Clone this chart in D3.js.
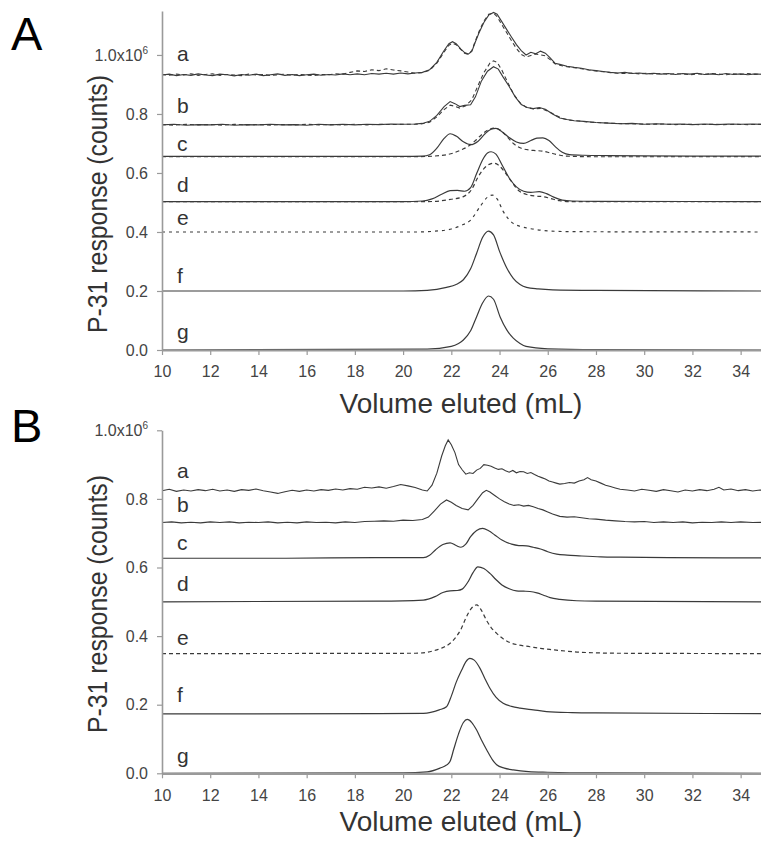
<!DOCTYPE html>
<html>
<head>
<meta charset="utf-8">
<script src="https://cdn.jsdelivr.net/npm/d3@7"></script>
<style>
  body { margin: 0; background: #fff; }
  svg { display: block; font-family: "Liberation Sans", Arial, sans-serif; }
</style>
</head>
<body>
<div id="chart"></div>
<script>
// x ticks shared by both panels (mL)
const xTicks = [10, 12, 14, 16, 18, 20, 22, 24, 26, 28, 30, 32, 34]
const yTicks = [0, 0.2, 0.4, 0.6, 0.8, 1.0]
const traceNames = ["a", "b", "c", "d", "e", "f", "g"]

// ---- Panel A traces (volume mL, response x10^6) ----
const aSolidA = [[10.0,.932],[10.3,.935],[10.6,.930],[10.9,.934],[11.2,.931],[11.5,.936],[11.8,.932],[12.1,.930],[12.4,.935],[12.7,.933],[13.0,.929],[13.3,.934],[13.6,.931],[13.9,.935],[14.2,.930],[14.5,.933],[14.8,.936],[15.1,.931],[15.4,.934],[15.7,.930],[16.0,.933],[16.3,.935],[16.6,.931],[16.9,.934],[17.2,.932],[17.5,.936],[17.8,.933],[18.1,.936],[18.4,.933],[18.7,.937],[19.0,.935],[19.3,.938],[19.6,.935],[19.9,.939],[20.2,.936],[20.5,.939],[20.8,.941],[21.1,.950],[21.4,.975],[21.7,1.015],[21.9,1.038],[22.05,1.045],[22.2,1.038],[22.4,1.02],[22.55,1.008],[22.7,1.003],[22.85,1.012],[23.0,1.045],[23.15,1.075],[23.35,1.11],[23.55,1.135],[23.75,1.144],[23.9,1.138],[24.1,1.112],[24.3,1.086],[24.5,1.06],[24.7,1.035],[24.9,1.015],[25.1,1.0],[25.3,1.009],[25.5,1.004],[25.7,1.013],[25.9,1.006],[26.1,0.99],[26.3,0.972],[26.5,0.968],[26.8,0.962],[27.1,0.958],[27.4,0.955],[27.7,0.95],[28.0,0.947],[28.3,0.944],[28.6,0.941],[28.9,0.939],[29.2,0.941],[29.5,0.937],[29.8,0.939],[30.1,0.936],[30.4,0.938],[30.7,0.935],[31.0,0.937],[31.3,0.934],[31.6,0.937],[31.9,0.935],[32.2,0.938],[32.5,0.934],[32.8,0.936],[33.1,0.933],[33.4,0.937],[33.7,0.934],[34.0,0.936],[34.3,0.933],[34.6,0.936],[35.0,0.934]]
const aDashA = [[10.0,.934],[10.3,.931],[10.6,.935],[10.9,.932],[11.2,.936],[11.5,.931],[11.8,.934],[12.1,.936],[12.4,.931],[12.7,.934],[13.0,.932],[13.3,.930],[13.6,.935],[13.9,.932],[14.2,.934],[14.5,.930],[14.8,.933],[15.1,.935],[15.4,.931],[15.7,.934],[16.0,.932],[16.3,.930],[16.6,.934],[16.9,.933],[17.2,.936],[17.5,.935],[17.8,.941],[18.1,.946],[18.4,.944],[18.7,.950],[19.0,.947],[19.3,.953],[19.6,.949],[19.9,.946],[20.2,.942],[20.5,.938],[20.8,.940],[21.1,.948],[21.4,.972],[21.7,1.01],[21.9,1.033],[22.05,1.04],[22.2,1.035],[22.4,1.018],[22.55,1.006],[22.7,1.002],[22.85,1.015],[23.0,1.048],[23.15,1.08],[23.35,1.115],[23.55,1.138],[23.75,1.142],[23.9,1.13],[24.1,1.102],[24.3,1.075],[24.5,1.048],[24.7,1.022],[24.9,1.002],[25.1,0.993],[25.3,0.998],[25.5,1.003],[25.7,1.0],[25.9,0.997],[26.1,0.984],[26.3,0.97],[26.5,0.965],[26.8,0.96],[27.1,0.957],[27.4,0.953],[27.7,0.949],[28.0,0.946],[28.3,0.943],[28.6,0.94],[28.9,0.938],[29.2,0.937],[29.5,0.939],[29.8,0.936],[30.1,0.938],[30.4,0.935],[30.7,0.937],[31.0,0.934],[31.3,0.937],[31.6,0.935],[31.9,0.933],[32.2,0.936],[32.5,0.934],[32.8,0.937],[33.1,0.935],[33.4,0.933],[33.7,0.936],[34.0,0.934],[34.3,0.937],[34.6,0.934],[35.0,0.936]]
const bSolidA = [[10,.763],[10.5,.765],[11,.762],[11.5,.764],[12,.763],[12.5,.765],[13,.762],[13.5,.764],[14,.763],[14.5,.765],[15,.763],[15.5,.764],[16,.762],[16.5,.765],[17,.763],[17.5,.765],[18,.763],[18.5,.765],[19,.764],[19.5,.766],[20,.765],[20.5,.766],[20.8,.768],[21.1,.775],[21.4,.795],[21.7,.825],[21.95,.842],[22.15,.835],[22.35,.825],[22.55,.829],[22.8,.831],[23.0,.858],[23.25,.912],[23.5,.945],[23.75,.96],[23.95,.952],[24.15,.925],[24.4,.893],[24.65,.858],[24.9,.832],[25.15,.822],[25.4,.818],[25.65,.822],[25.9,.816],[26.2,.8],[26.5,.786],[26.8,.781],[27.1,.777],[27.5,.775],[28,.771],[28.5,.769],[29,.767],[29.5,.768],[30,.765],[30.5,.767],[31,.765],[31.5,.766],[32,.764],[32.5,.766],[33,.764],[33.5,.766],[34,.765],[34.5,.766],[35,.764]]
const bDashA = [[10,.764],[10.5,.762],[11,.765],[11.5,.763],[12,.764],[12.5,.762],[13,.765],[13.5,.763],[14,.764],[14.5,.762],[15,.764],[15.5,.763],[16,.765],[16.5,.763],[17,.764],[17.5,.763],[18,.765],[18.5,.763],[19,.765],[19.5,.764],[20,.765],[20.5,.765],[20.8,.767],[21.1,.772],[21.4,.79],[21.7,.815],[21.95,.83],[22.15,.826],[22.35,.82],[22.6,.828],[22.85,.848],[23.1,.895],[23.35,.94],[23.6,.972],[23.75,.98],[23.9,.975],[24.1,.948],[24.35,.905],[24.6,.865],[24.85,.838],[25.1,.823],[25.4,.817],[25.7,.819],[26.0,.81],[26.3,.797],[26.6,.785],[26.9,.779],[27.3,.776],[27.8,.772],[28.3,.77],[28.8,.768],[29.3,.767],[29.8,.766],[30.3,.765],[30.8,.766],[31.3,.764],[31.8,.765],[32.3,.764],[32.8,.765],[33.3,.764],[33.8,.765],[34.3,.764],[35,.765]]
const cSolidA = [[10,.656],[15,.656],[20,.656],[20.8,.657],[21.1,.662],[21.4,.684],[21.7,.717],[21.95,.733],[22.2,.725],[22.5,.706],[22.8,.696],[23.1,.707],[23.4,.733],[23.65,.748],[23.85,.751],[24.1,.74],[24.4,.72],[24.7,.705],[25.0,.7],[25.3,.71],[25.55,.718],[25.8,.719],[26.05,.71],[26.3,.69],[26.6,.67],[26.9,.662],[27.5,.66],[28.5,.659],[30,.658],[35,.657]]
const cDashA = [[10,.655],[20,.655],[21,.656],[21.5,.659],[21.8,.662],[22.1,.668],[22.4,.678],[22.7,.69],[23.0,.71],[23.3,.733],[23.55,.747],[23.8,.752],[24.05,.744],[24.3,.724],[24.6,.698],[24.9,.684],[25.2,.678],[25.5,.676],[25.8,.674],[26.1,.668],[26.4,.662],[26.8,.657],[28,.655],[35,.655]]
const dSolidA = [[10,.503],[20,.503],[20.8,.505],[21.2,.512],[21.6,.528],[21.95,.54],[22.25,.541],[22.55,.538],[22.8,.55],[23.05,.598],[23.3,.645],[23.5,.668],[23.65,.672],[23.85,.664],[24.1,.628],[24.4,.583],[24.7,.553],[25.0,.538],[25.3,.534],[25.65,.537],[25.95,.53],[26.25,.518],[26.6,.508],[27,.505],[28,.504],[35,.503]]
const dDashA = [[10,.503],[21,.503],[21.5,.505],[22.0,.511],[22.5,.52],[22.85,.545],[23.1,.585],[23.35,.615],[23.6,.63],[23.75,.633],[23.95,.627],[24.2,.605],[24.5,.57],[24.8,.54],[25.1,.528],[25.45,.522],[25.8,.52],[26.1,.514],[26.5,.506],[27,.503],[35,.503]]
const eA = [[10,.4],[20.5,.4],[21.5,.404],[22.0,.41],[22.4,.422],[22.8,.44],[23.2,.487],[23.5,.518],[23.7,.525],[23.9,.512],[24.15,.47],[24.55,.43],[24.9,.418],[25.3,.411],[26,.404],[27,.401],[35,.4]]
const fA = [[10,.2],[20,.2],[21,.202],[21.8,.212],[22.2,.222],[22.5,.238],[22.8,.275],[23.05,.328],[23.3,.382],[23.54,.403],[23.75,.39],[24.02,.33],[24.3,.278],[24.57,.243],[24.85,.222],[25.12,.212],[25.6,.207],[26.2,.204],[28,.202],[35,.2]]
const gA = [[10,0],[21,.003],[22.0,.012],[22.3,.022],[22.5,.034],[22.8,.065],[23.05,.113],[23.3,.16],[23.54,.183],[23.75,.172],[24.02,.113],[24.3,.068],[24.57,.04],[24.85,.022],[25.1,.012],[26,.004],[28,.001],[35,0]]
const labelLevelA = [0.978, 0.803, 0.676, 0.537, 0.424, 0.226, 0.037]

// ---- Panel B traces ----
const aB = [[10.0,.824],[10.3,.828],[10.6,.822],[10.9,.826],[11.2,.823],[11.5,.827],[11.8,.824],[12.1,.828],[12.4,.823],[12.7,.826],[13.0,.822],[13.3,.827],[13.6,.825],[13.9,.829],[14.2,.824],[14.5,.82],[14.8,.816],[15.1,.821],[15.4,.825],[15.7,.822],[16.0,.826],[16.3,.823],[16.6,.827],[16.9,.825],[17.2,.829],[17.5,.826],[17.8,.83],[18.1,.828],[18.4,.834],[18.7,.832],[19.0,.835],[19.3,.831],[19.6,.836],[19.9,.842],[20.2,.838],[20.5,.833],[20.8,.826],[21.0,.823],[21.2,.84],[21.4,.875],[21.6,.925],[21.75,.955],[21.87,.972],[22.0,.958],[22.15,.935],[22.3,.9],[22.45,.885],[22.6,.872],[22.75,.876],[22.9,.874],[23.05,.884],[23.2,.889],[23.35,.9],[23.5,.898],[23.65,.895],[23.8,.89],[23.95,.886],[24.1,.888],[24.25,.882],[24.4,.878],[24.55,.883],[24.7,.876],[24.85,.88],[25.0,.879],[25.15,.874],[25.3,.877],[25.45,.871],[25.6,.866],[25.75,.862],[25.9,.858],[26.05,.852],[26.2,.849],[26.35,.846],[26.5,.843],[26.7,.845],[26.9,.848],[27.1,.846],[27.3,.852],[27.5,.856],[27.65,.862],[27.8,.856],[28.0,.852],[28.2,.846],[28.4,.84],[28.6,.836],[28.8,.832],[29.0,.828],[29.3,.826],[29.6,.823],[29.9,.828],[30.2,.825],[30.5,.822],[30.8,.827],[31.1,.824],[31.4,.82],[31.7,.826],[32.0,.823],[32.3,.827],[32.6,.824],[32.9,.828],[33.1,.834],[33.3,.826],[33.6,.829],[33.9,.824],[34.2,.827],[34.5,.823],[34.8,.826],[35.0,.824]]
const bB = [[10.0,.731],[10.4,.733],[10.8,.73],[11.2,.732],[11.6,.73],[12.0,.733],[12.4,.731],[12.8,.733],[13.2,.73],[13.6,.732],[14.0,.731],[14.4,.733],[14.8,.73],[15.2,.732],[15.6,.73],[16.0,.733],[16.4,.731],[16.8,.732],[17.2,.73],[17.6,.733],[18.0,.731],[18.4,.734],[18.8,.735],[19.2,.736],[19.6,.735],[20.0,.738],[20.4,.737],[20.8,.74],[21.05,.747],[21.3,.765],[21.55,.785],[21.8,.797],[22.0,.79],[22.2,.781],[22.45,.772],[22.7,.768],[22.9,.781],[23.1,.8],[23.3,.818],[23.45,.825],[23.6,.82],[23.8,.81],[24.0,.8],[24.2,.792],[24.4,.785],[24.6,.781],[24.8,.783],[25.0,.779],[25.2,.781],[25.4,.777],[25.6,.772],[25.8,.768],[26.0,.762],[26.2,.756],[26.5,.749],[26.8,.747],[27.1,.748],[27.4,.745],[27.7,.742],[28.0,.741],[28.4,.738],[28.8,.736],[29.2,.734],[29.6,.733],[30.0,.734],[30.4,.731],[30.8,.733],[31.2,.731],[31.6,.733],[32.0,.73],[32.4,.732],[32.8,.731],[33.2,.733],[33.6,.731],[34.0,.733],[34.5,.731],[35.0,.732]]
const cB = [[10,.627],[15,.627],[19,.629],[20.84,.629],[21.1,.636],[21.35,.652],[21.65,.667],[21.95,.672],[22.2,.664],[22.4,.659],[22.6,.668],[22.8,.69],[23.05,.708],[23.3,.714],[23.55,.707],[23.8,.695],[24.1,.68],[24.5,.668],[24.8,.664],[25.12,.663],[25.4,.659],[25.7,.654],[26.0,.646],[26.37,.639],[26.8,.636],[27.3,.634],[28.2,.631],[29,.63],[31,.629],[35,.628]]
const dB = [[10,.5],[19,.502],[20.84,.505],[21.32,.515],[21.65,.527],[21.95,.532],[22.25,.533],[22.45,.537],[22.7,.559],[22.9,.585],[23.1,.602],[23.35,.597],[23.6,.583],[23.85,.565],[24.1,.549],[24.4,.538],[24.7,.532],[25.0,.531],[25.26,.53],[25.55,.526],[25.8,.52],[26.1,.512],[26.5,.507],[27.2,.503],[28,.502],[35,.5]]
const eB = [[10,.349],[20.5,.35],[21.0,.353],[21.4,.36],[21.7,.368],[21.95,.379],[22.2,.398],[22.4,.42],[22.6,.452],[22.8,.478],[23.05,.491],[23.25,.475],[23.45,.447],[23.65,.425],[23.88,.408],[24.15,.392],[24.43,.381],[24.8,.374],[25.26,.369],[25.7,.364],[26.23,.36],[26.8,.356],[27.34,.353],[29,.35],[35,.349]]
const fB = [[10,.173],[19,.174],[20.84,.175],[21.5,.185],[21.8,.194],[22.0,.225],[22.2,.265],[22.43,.301],[22.6,.325],[22.77,.335],[22.95,.33],[23.19,.306],[23.4,.275],[23.6,.248],[23.85,.222],[24.15,.204],[24.5,.195],[24.85,.19],[25.4,.185],[25.95,.18],[27,.177],[28,.176],[35,.174]]
const gB = [[10,0],[20,.001],[21.0,.004],[21.53,.015],[21.8,.024],[21.95,.035],[22.1,.07],[22.3,.115],[22.5,.148],[22.66,.157],[22.85,.148],[23.05,.126],[23.25,.097],[23.47,.068],[23.7,.04],[23.88,.025],[24.2,.015],[24.57,.01],[25.2,.005],[26,.003],[28,.001],[35,0]]
const labelLevelB = [0.86, 0.763, 0.651, 0.531, 0.374, 0.209, 0.029]

const W = 761, H = 846
const INK = "#3a3a3a", AXIS = "#9a9a9a", TXT = "#444"

const svg = d3.select("#chart").append("svg")
  .attr("width", W).attr("height", H)

// line styles: solid, dashed (overlay), dotted (e)
const dashStyle = { solid: null, dash: "4,3", dot: "3,4" }

function drawPanel(p) {
  const x = d3.scaleLinear().domain([10, 35]).range([162, 764.75])
  const y = d3.scaleLinear().domain([0, p.yMax]).range([p.bottom, p.top])
  const g = svg.append("g")

  // traces
  p.traces.forEach(t => {
    const line = d3.line()
      .x(d => x(d[0])).y(d => y(d[1]))
      .curve(t.noisy ? d3.curveLinear : d3.curveMonotoneX)
    g.append("path")
      .datum(t.data)
      .attr("fill", "none")
      .attr("stroke", INK)
      .attr("stroke-width", t.noisy ? 1.1 : 1.2)
      .attr("stroke-dasharray", dashStyle[t.style])
      .attr("d", line)
  })

  // x axis
  const xAxis = g.append("g")
    .attr("transform", `translate(0,${p.bottom})`)
    .call(d3.axisBottom(x).tickValues(xTicks).tickSize(5).tickSizeOuter(0).tickPadding(11))
  xAxis.select(".domain").attr("stroke", AXIS).attr("stroke-width", 2.2)
  xAxis.selectAll(".tick line").attr("stroke", AXIS).attr("stroke-width", 1.2)
  xAxis.selectAll(".tick text")
    .attr("fill", TXT).attr("font-size", 16)
    .attr("font-family", "Liberation Sans, Arial, sans-serif")

  // y axis
  const yAxis = g.append("g")
    .attr("transform", `translate(162,0)`)
    .call(d3.axisLeft(y).tickValues(yTicks).tickSize(5).tickSizeOuter(0).tickPadding(9)
      .tickFormat(d => d === 1 ? "" : d3.format(".1f")(d)))
  yAxis.select(".domain").attr("stroke", AXIS).attr("stroke-width", 1.6)
  yAxis.selectAll(".tick line").attr("stroke", AXIS).attr("stroke-width", 1.2)
  yAxis.selectAll(".tick text")
    .attr("fill", TXT).attr("font-size", 16)
    .attr("font-family", "Liberation Sans, Arial, sans-serif")
  // 1.0x10^6 label with superscript
  const top = yAxis.selectAll(".tick").filter(d => d === 1).select("text")
  top.append("tspan").text("1.0x10")
  top.append("tspan").text("6").attr("font-size", 10).attr("dy", -7)

  // trace letters
  traceNames.forEach((n, i) => {
    g.append("text")
      .attr("x", 177).attr("y", y(p.labelLevels[i]))
      .attr("font-size", 21).attr("fill", "#333")
      .text(n)
  })

  // axis titles
  g.append("text")
    .attr("x", 461).attr("y", p.xTitleY)
    .attr("text-anchor", "middle")
    .attr("font-size", 28).attr("fill", "#333")
    .text("Volume eluted (mL)")

  g.append("text")
    .attr("transform", `translate(107,${p.yTitleC}) rotate(-90)`)
    .attr("text-anchor", "middle")
    .attr("font-size", 28).attr("fill", "#333")
    .attr("textLength", 258).attr("lengthAdjust", "spacingAndGlyphs")
    .text("P-31 response (counts)")

  // panel letter
  g.append("text")
    .attr("x", 11).attr("y", p.letterY)
    .attr("font-size", 47).attr("fill", "#000")
    .text(p.letter)
}

drawPanel({
  letter: "A", letterY: 50, top: 11, bottom: 350, yMax: 1.149,
  xTitleY: 413, yTitleC: 204, labelLevels: labelLevelA,
  traces: [
    { data: aSolidA, style: "solid", noisy: true },
    { data: aDashA, style: "dash", noisy: true },
    { data: bSolidA, style: "solid", noisy: true },
    { data: bDashA, style: "dash", noisy: true },
    { data: cSolidA, style: "solid" },
    { data: cDashA, style: "dash" },
    { data: dSolidA, style: "solid" },
    { data: dDashA, style: "dash" },
    { data: eA, style: "dot" },
    { data: fA, style: "solid" },
    { data: gA, style: "solid" }
  ]
})

drawPanel({
  letter: "B", letterY: 442, top: 430.3, bottom: 773.3, yMax: 1.0,
  xTitleY: 831, yTitleC: 604, labelLevels: labelLevelB,
  traces: [
    { data: aB, style: "solid", noisy: true },
    { data: bB, style: "solid", noisy: true },
    { data: cB, style: "solid" },
    { data: dB, style: "solid" },
    { data: eB, style: "dash" },
    { data: fB, style: "solid" },
    { data: gB, style: "solid" }
  ]
})
</script>
</body>
</html>
